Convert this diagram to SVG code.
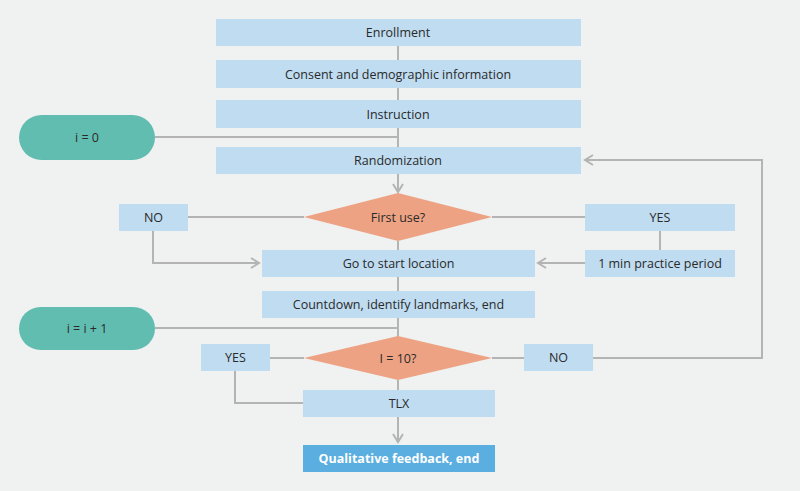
<svg xmlns="http://www.w3.org/2000/svg" width="800" height="491" viewBox="0 0 800 491">
<defs>
<style>
.bg{fill:#f0f1f1}
.box{fill:#bfdcf1}
.pill{fill:#62bdb1}
.dia{fill:#eda383}
.dark{fill:#5aaee0}
.t{font-family:"Open Sans","Noto Sans",sans-serif;font-size:12.5px;fill:#2a2a2a;text-anchor:middle;dominant-baseline:central}
.tw{font-family:"Open Sans","Noto Sans",sans-serif;font-size:12.5px;font-weight:bold;fill:#ffffff;text-anchor:middle;dominant-baseline:central}
.c{fill:none;stroke:#b4b4b4;stroke-width:2}
</style>
<marker id="ah" viewBox="0 0 12 12" refX="10" refY="6" markerWidth="12" markerHeight="12" markerUnits="userSpaceOnUse" orient="auto">
<path d="M2,1 L10,6 L2,11" fill="none" stroke="#b4b4b4" stroke-width="2"/>
</marker>
</defs>
<rect class="bg" x="0" y="0" width="800" height="491"/>
<g id="connectors">
<path class="c" d="M398,46 V60 M398,88 V100 M398,128 V147"/>
<path class="c" d="M155,137 H398"/>
<path class="c" d="M398,174 V192" marker-end="url(#ah)"/>
<path class="c" d="M188,217 H304 M492,217 H585"/>
<path class="c" d="M398,241 V250 M398,277 V291 M398,318 V337"/>
<path class="c" d="M153,231 V263 H259" marker-end="url(#ah)"/>
<path class="c" d="M660,231 V250"/>
<path class="c" d="M585,263 H538" marker-end="url(#ah)"/>
<path class="c" d="M155,328 H398"/>
<path class="c" d="M270,358 H304 M492,358 H524"/>
<path class="c" d="M593,358 H762 V160 H585" marker-end="url(#ah)"/>
<path class="c" d="M235,371 V403 H303"/>
<path class="c" d="M398,380 V390"/>
<path class="c" d="M398,417 V442" marker-end="url(#ah)"/>
</g>
<g id="enrollment"><rect class="box" x="216" y="19" width="365" height="27"/><text class="t" x="398" y="32.5">Enrollment</text></g>
<g id="consent"><rect class="box" x="216" y="60" width="365" height="28"/><text class="t" x="398" y="74">Consent and demographic information</text></g>
<g id="instruction"><rect class="box" x="216" y="100" width="365" height="28"/><text class="t" x="398" y="114">Instruction</text></g>
<g id="i0"><rect class="pill" x="19" y="115" width="136" height="45" rx="22.5"/><text class="t" x="87" y="137.5">i = 0</text></g>
<g id="randomization"><rect class="box" x="216" y="147" width="365" height="27"/><text class="t" x="398" y="160.5">Randomization</text></g>
<g id="firstuse"><polygon class="dia" points="304,217 398,193 492,217 398,241"/><text class="t" x="398" y="217">First use?</text></g>
<g id="no1"><rect class="box" x="119" y="204" width="69" height="27"/><text class="t" x="153.5" y="217.5">NO</text></g>
<g id="yes1"><rect class="box" x="585" y="204" width="150" height="27"/><text class="t" x="660" y="217.5">YES</text></g>
<g id="gotostart"><rect class="box" x="262" y="250" width="273" height="27"/><text class="t" x="398.5" y="263.5">Go to start location</text></g>
<g id="practice"><rect class="box" x="585" y="250" width="150" height="27"/><text class="t" x="660" y="263.5">1 min practice period</text></g>
<g id="countdown"><rect class="box" x="262" y="291" width="273" height="27"/><text class="t" x="398.5" y="304.5">Countdown, identify landmarks, end</text></g>
<g id="iinc"><rect class="pill" x="19" y="307" width="136" height="43" rx="21.5"/><text class="t" x="87" y="328.5">i = i + 1</text></g>
<g id="i10"><polygon class="dia" points="304,358 398,336 492,358 398,380"/><text class="t" x="398" y="358">I = 10?</text></g>
<g id="yes2"><rect class="box" x="201" y="344" width="69" height="27"/><text class="t" x="235.5" y="357.5">YES</text></g>
<g id="no2"><rect class="box" x="524" y="344" width="69" height="27"/><text class="t" x="558.5" y="357.5">NO</text></g>
<g id="tlx"><rect class="box" x="303" y="390" width="192" height="27"/><text class="t" x="399" y="403.5">TLX</text></g>
<g id="feedback"><rect class="dark" x="303" y="445" width="192" height="27"/><text class="tw" x="399" y="458.5">Qualitative feedback, end</text></g>
</svg>
